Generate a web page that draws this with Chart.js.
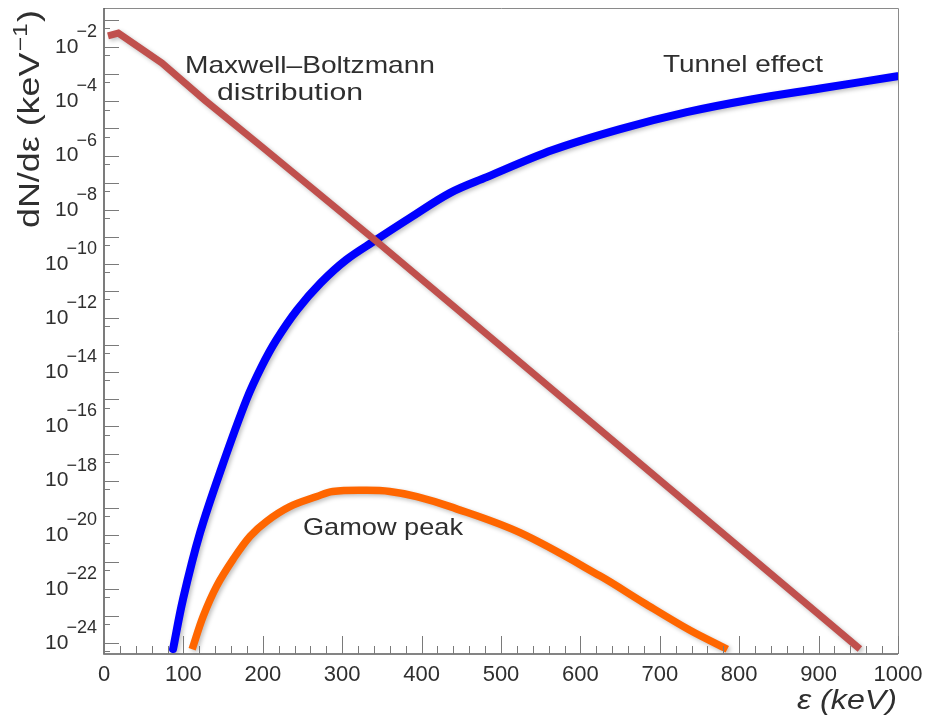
<!DOCTYPE html>
<html>
<head>
<meta charset="utf-8">
<title>Gamow peak</title>
<script src="https://cdn.jsdelivr.net/npm/chart.js@4.4.1/dist/chart.umd.min.js"></script>
<style>
  html, body { margin: 0; padding: 0; background: #fff; }
  #wrap { width: 926px; height: 720px; }
</style>
</head>
<body>
<div id="wrap"><canvas id="gamowChart" width="926" height="720"></canvas></div>
<script>
// Energy (keV) and dN/dε (keV^-1) for each curve
const mbEnergy = [5, 18, 73, 127, 199, 344, 436, 952];
const mbValues = [2.6e-2, 3.3e-2, 2.6e-3, 1.1e-4, 2.1e-6, 6.5e-10, 3.5e-12, 6.1e-25];

const tunnelEnergy = [87, 99.5, 121, 148.6, 179.5, 198.4, 217.3, 243.1, 272.9, 304.8, 342.6, 385.4,
                      436, 482, 565, 650, 734, 817, 902, 999];
const tunnelValues = [6.1e-25, 4.2e-23, 1.2e-20, 3.3e-18, 9.8e-16, 1.6e-14, 1.6e-13, 2.0e-12, 2.0e-11, 1.4e-10,
                      7.7e-10, 5.0e-9, 4.2e-8, 1.6e-7, 1.6e-6, 9.5e-6, 4.0e-5, 1.2e-4, 3.0e-4, 8.5e-4];

const gamowEnergy = [111, 125, 142, 163, 184, 205, 234, 268, 288, 331, 360, 394, 436, 524, 625, 679, 738, 785];
const gamowValues = [6.0e-25, 1.0e-23, 1.3e-22, 1.3e-21, 8.9e-21, 3.2e-20, 1.1e-19, 2.6e-19, 4.0e-19,
                     4.4e-19, 4.0e-19, 2.6e-19, 1.1e-19, 1.2e-20, 3.0e-22, 3.2e-23, 3.0e-24, 6.0e-25];

// Axis ticks
const xTickValues = [0, 100, 200, 300, 400, 500, 600, 700, 800, 900, 1000];
const yDecades = [-24, -23, -22, -21, -20, -19, -18, -17, -16, -15, -14, -13, -12, -11, -10, -9, -8, -7, -6, -5, -4, -3, -2, -1];
const yLabelExponents = [-2, -4, -6, -8, -10, -12, -14, -16, -18, -20, -22, -24];

const FONT = '"Liberation Sans", Arial, sans-serif';
const TEXT = '#2f2f2f';

function toPoints(xs, ys) {
  return xs.map((x, i) => ({ x: x, y: ys[i] }));
}

// text squeezed/stretched to a given width
function fitText(ctx, text, x, y, width) {
  const w = ctx.measureText(text).width;
  ctx.save();
  ctx.translate(x, y);
  ctx.scale(width / w, 1);
  ctx.fillText(text, 0, 0);
  ctx.restore();
}

// ROOT-like frame, inner ticks, exponent labels and captions
const rootStyle = {
  id: 'rootStyle',
  beforeDatasetsDraw(chart) {
    const ctx = chart.ctx;
    ctx.save();
    ctx.shadowColor = 'rgba(0,0,0,0.25)';
    ctx.shadowBlur = 4;
    ctx.shadowOffsetX = 2;
    ctx.shadowOffsetY = 2;
  },
  afterDatasetsDraw(chart) {
    chart.ctx.restore();
  },
  afterDraw(chart) {
    const ctx = chart.ctx;
    const a = chart.chartArea;
    const xs = chart.scales.x;
    const ys = chart.scales.y;

    ctx.save();
    // frame
    ctx.strokeStyle = '#8a8a8a';
    ctx.lineWidth = 1;
    ctx.beginPath();
    ctx.moveTo(a.left, a.top + 0.5);
    ctx.lineTo(a.right + 0.5, a.top + 0.5);
    ctx.lineTo(a.right + 0.5, a.bottom);
    ctx.stroke();
    ctx.strokeStyle = '#5c5c5c';
    ctx.lineWidth = 1.6;
    ctx.beginPath();
    ctx.moveTo(a.left, a.top);
    ctx.lineTo(a.left, a.bottom);
    ctx.lineTo(a.right, a.bottom);
    ctx.stroke();

    // x ticks: major every 100, minor every 20
    ctx.strokeStyle = '#7a7a7a';
    ctx.lineWidth = 1;
    ctx.beginPath();
    for (let v = 0; v <= 1000; v += 20) {
      const px = Math.round(xs.getPixelForValue(v)) + 0.5;
      const len = v % 100 === 0 ? 18 : 8;
      ctx.moveTo(px, a.bottom);
      ctx.lineTo(px, a.bottom - len);
    }
    // y ticks: one per decade, plus a short one at 5 x 10^(n-1)
    ys.ticks.forEach(t => {
      const py = Math.round(ys.getPixelForValue(t.value)) + 0.5;
      ctx.moveTo(a.left, py);
      ctx.lineTo(a.left + 15, py);
      const pm = Math.round(ys.getPixelForValue(t.value / 2)) + 0.5;
      if (pm < a.bottom - 1) {
        ctx.moveTo(a.left, pm);
        ctx.lineTo(a.left + 6, pm);
      }
    });
    ctx.stroke();

    // y labels as 10 with raised exponent
    ctx.fillStyle = TEXT;
    ctx.textBaseline = 'middle';
    yLabelExponents.forEach(e => {
      const py = ys.getPixelForValue(Math.pow(10, e));
      const expText = '\u2212' + Math.abs(e);
      ctx.font = '18px ' + FONT;
      ctx.textAlign = 'right';
      ctx.fillText(expText, 97, py - 15);
      const ew = ctx.measureText(expText).width;
      ctx.font = '21px ' + FONT;
      ctx.fillText('10', 97 - ew + 2, py);
    });

    // y axis title
    ctx.save();
    ctx.translate(39, 228);
    ctx.rotate(-Math.PI / 2);
    ctx.textAlign = 'left';
    ctx.textBaseline = 'alphabetic';
    ctx.font = '29px ' + FONT;
    const t1 = 'dN/d\u03b5 (keV';
    const w1 = ctx.measureText(t1).width;
    ctx.font = '20px ' + FONT;
    const sup = '\u22121';
    const w2 = ctx.measureText(sup).width;
    ctx.font = '29px ' + FONT;
    const w3 = ctx.measureText(')').width;
    ctx.scale(218 / (w1 + w2 + w3 + 2), 1);
    ctx.fillText(t1, 0, 0);
    ctx.fillText(')', w1 + w2 + 2, 0);
    ctx.font = '20px ' + FONT;
    ctx.fillText(sup, w1 + 1, -12);
    ctx.restore();

    // x axis title
    ctx.textAlign = 'left';
    ctx.textBaseline = 'alphabetic';
    ctx.font = 'italic 28px ' + FONT;
    fitText(ctx, '\u03b5 (keV)', 797, 709, 100);

    // curve captions
    ctx.textBaseline = 'middle';
    ctx.font = '24px ' + FONT;
    fitText(ctx, 'Maxwell\u2013Boltzmann', 185, 66, 250);
    fitText(ctx, 'distribution', 217, 93, 146);
    fitText(ctx, 'Tunnel effect', 663, 65, 160);
    fitText(ctx, 'Gamow peak', 303, 528, 160);
    ctx.restore();
  }
};

const ctx = document.getElementById('gamowChart').getContext('2d');
new Chart(ctx, {
  type: 'line',
  data: {
    datasets: [
      {
        label: 'Maxwell-Boltzmann distribution',
        data: toPoints(mbEnergy, mbValues),
        borderColor: '#c0504d',
        borderWidth: 7,
        borderCapStyle: 'butt',
        tension: 0,
        pointRadius: 0
      },
      {
        label: 'Tunnel effect',
        data: toPoints(tunnelEnergy, tunnelValues),
        borderColor: '#0000ff',
        borderWidth: 8,
        borderCapStyle: 'round',
        tension: 0.35,
        pointRadius: 0
      },
      {
        label: 'Gamow peak',
        data: toPoints(gamowEnergy, gamowValues),
        borderColor: '#ff6600',
        borderWidth: 7.5,
        borderCapStyle: 'butt',
        tension: 0.35,
        pointRadius: 0
      }
    ]
  },
  options: {
    responsive: false,
    animation: false,
    layout: { padding: { left: 0, top: 8, right: 28, bottom: 0 } },
    plugins: {
      legend: { display: false },
      tooltip: { enabled: false }
    },
    scales: {
      x: {
        type: 'linear',
        min: 0,
        max: 1000,
        afterBuildTicks: scale => {
          scale.ticks = xTickValues.map(v => ({ value: v }));
        },
        afterFit: scale => {
          scale.height = 66;
          scale.paddingLeft = 0;
          scale.paddingRight = 0;
        },
        grid: { display: false },
        border: { display: false },
        ticks: {
          color: TEXT,
          font: { family: FONT, size: 22 },
          padding: 0,
          maxRotation: 0,
          autoSkip: false,
          callback: v => String(v)
        }
      },
      y: {
        type: 'logarithmic',
        min: 4.3e-25,
        max: 0.28,
        afterBuildTicks: scale => {
          scale.ticks = yDecades.map(e => ({ value: Math.pow(10, e) }));
        },
        afterFit: scale => { scale.width = 104; },
        grid: { display: false },
        border: { display: false },
        ticks: { display: false }
      }
    }
  },
  plugins: [rootStyle]
});
</script>
</body>
</html>
